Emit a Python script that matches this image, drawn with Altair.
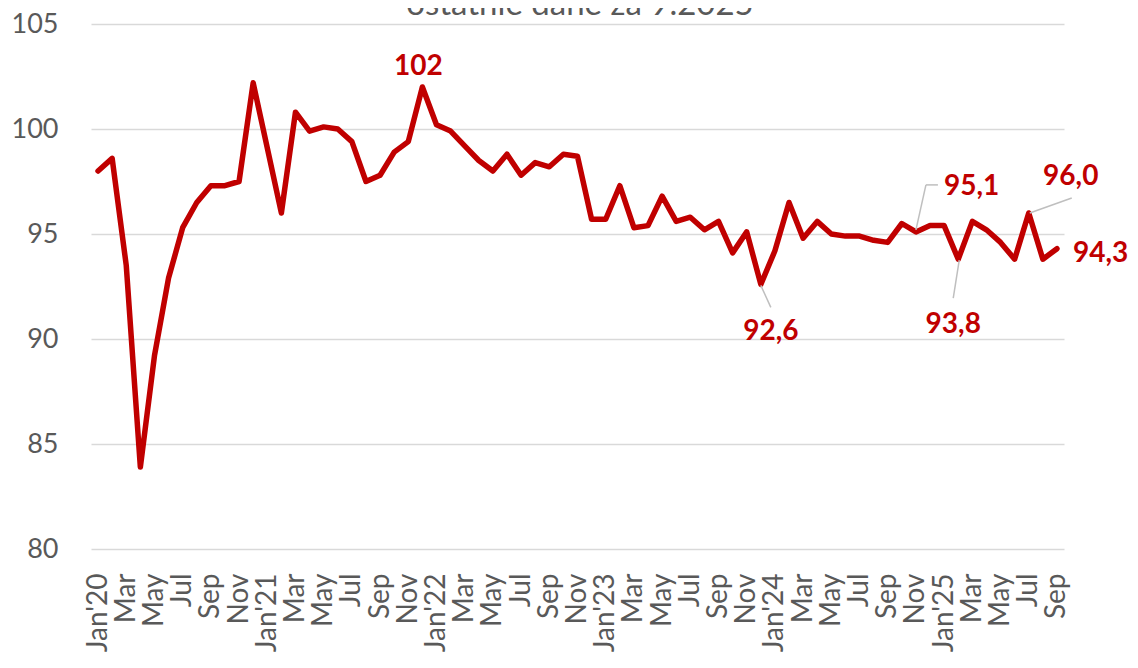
import altair as alt
import pandas as pd

# ---- data -------------------------------------------------------------
month_names = ["Jan", "Feb", "Mar", "Apr", "May", "Jun",
               "Jul", "Aug", "Sep", "Oct", "Nov", "Dec"]
years = ["20", "21", "22", "23", "24", "25"]
categories = [f"{m}'{y}" for y in years for m in month_names][:69]

values = [
    98.0, 98.6, 93.5, 83.9, 89.2, 92.9, 95.3, 96.5, 97.3, 97.3, 97.5, 102.2,   # 2020
    99.1, 96.0, 100.8, 99.9, 100.1, 100.0, 99.4, 97.5, 97.8, 98.9, 99.4, 102.0,  # 2021
    100.2, 99.9, 99.2, 98.5, 98.0, 98.8, 97.8, 98.4, 98.2, 98.8, 98.7, 95.7,   # 2022
    95.7, 97.3, 95.3, 95.4, 96.8, 95.6, 95.8, 95.2, 95.6, 94.1, 95.1, 92.6,    # 2023
    94.2, 96.5, 94.8, 95.6, 95.0, 94.9, 94.9, 94.7, 94.6, 95.5, 95.1, 95.4,    # 2024
    95.4, 93.8, 95.6, 95.2, 94.6, 93.8, 96.0, 93.8, 94.3,                      # 2025
]

y_ticks = [80, 85, 90, 95, 100, 105]

ann_months = ["Dec'21", "Dec'23", "Nov'24", "Feb'25", "Jul'25", "Sep'25"]
ann_texts = ["102", "92,6", "95,1", "93,8", "96,0", "94,3"]

title_text = "ostatnie dane za 9.2025"

# ---- styling ----------------------------------------------------------
RED = "#C00000"
GRAY = "#595959"
LEADER = "#BFBFBF"
FONT = "Lato"

df = pd.DataFrame({"month": categories, "value": values})
val_of = dict(zip(categories, values))

x_scale = alt.Scale(type="point", padding=0.5)
y_scale = alt.Scale(domain=[80, 105], nice=False, zero=False)

label_expr = (
    "indexof(datum.value, 'Jan') == 0 ? datum.value : "
    "(indexof('Mar May Jul Sep Nov', slice(datum.value, 0, 3)) >= 0 ? "
    "slice(datum.value, 0, 3) : '')"
)

x_enc = alt.X(
    "month:O", sort=categories, scale=x_scale,
    axis=alt.Axis(title=None, labelAngle=-90, labelFont=FONT, labelFontSize=28,
                  labelColor=GRAY, labelPadding=24, ticks=False, tickSize=0,
                  domain=False, grid=False, labelOverlap=False, labelExpr=label_expr),
)
y_enc = alt.Y(
    "value:Q", scale=y_scale,
    axis=alt.Axis(title=None, values=y_ticks, labelFont=FONT, labelFontSize=27,
                  labelColor=GRAY, labelPadding=33, ticks=False, tickSize=0,
                  domain=False, grid=True, gridColor="#D9D9D9", gridWidth=1.5),
)

line = alt.Chart(df).mark_line(
    color=RED, strokeWidth=5.5, strokeJoin="round", strokeCap="round"
).encode(x=x_enc, y=y_enc)

# label placement (pixel offsets from the data point)
label_style = {
    "102":  dict(dx=-4, dy=-12, align="center"),
    "92,6": dict(dx=10, dy=56, align="center"),
    "95,1": dict(dx=28, dy=-37, align="left"),
    "93,8": dict(dx=-5, dy=74, align="center"),
    "96,0": dict(dx=42, dy=-28, align="center"),
    "94,3": dict(dx=16, dy=13, align="left"),
}
# leader segments: (start offset, end offset)
leader_style = {
    "92,6": [((0, 1), (10, 23))],
    "95,1": [((0, -2), (10, -47)), ((10, -47), (22, -47))],
    "93,8": [((1, 1), (-5, 39))],
    "96,0": [((1, 0), (43, -15))],
}

layers = [line]
for m, t in zip(ann_months, ann_texts):
    adf = pd.DataFrame({"month": [m], "value": [val_of[m]], "label": [t]})
    for (sx, sy), (ex, ey) in leader_style.get(t, []):
        layers.append(
            alt.Chart(adf).mark_rule(
                color=LEADER, strokeWidth=1.5,
                xOffset=sx, yOffset=sy, x2Offset=ex, y2Offset=ey,
            ).encode(
                x=alt.X("month:O", sort=categories, scale=x_scale),
                y=alt.Y("value:Q", scale=y_scale),
                x2=alt.X2("month"), y2=alt.Y2("value"),
            )
        )
    st = label_style[t]
    layers.append(
        alt.Chart(adf).mark_text(
            font=FONT, fontSize=28, fontWeight="bold", color=RED,
            align=st["align"], baseline="alphabetic", dx=st["dx"], dy=st["dy"],
        ).encode(
            x=alt.X("month:O", sort=categories, scale=x_scale),
            y=alt.Y("value:Q", scale=y_scale),
            text="label:N",
        )
    )

title = alt.Chart(pd.DataFrame({"t": [title_text]})).mark_text(
    font=FONT, fontSize=33, color=GRAY, align="center", baseline="alphabetic"
).encode(text="t:N", x=alt.value(489), y=alt.value(-9))
layers.append(title)

chart = alt.layer(*layers).properties(
    width=973, height=525,
    padding={"left": 83, "top": 16, "right": 66, "bottom": 105},
    autosize=alt.AutoSizeParams(type="none"),
    background="white",
).configure_view(stroke=None)

chart.save("out.html", embed_options={"renderer": "svg", "actions": False})
